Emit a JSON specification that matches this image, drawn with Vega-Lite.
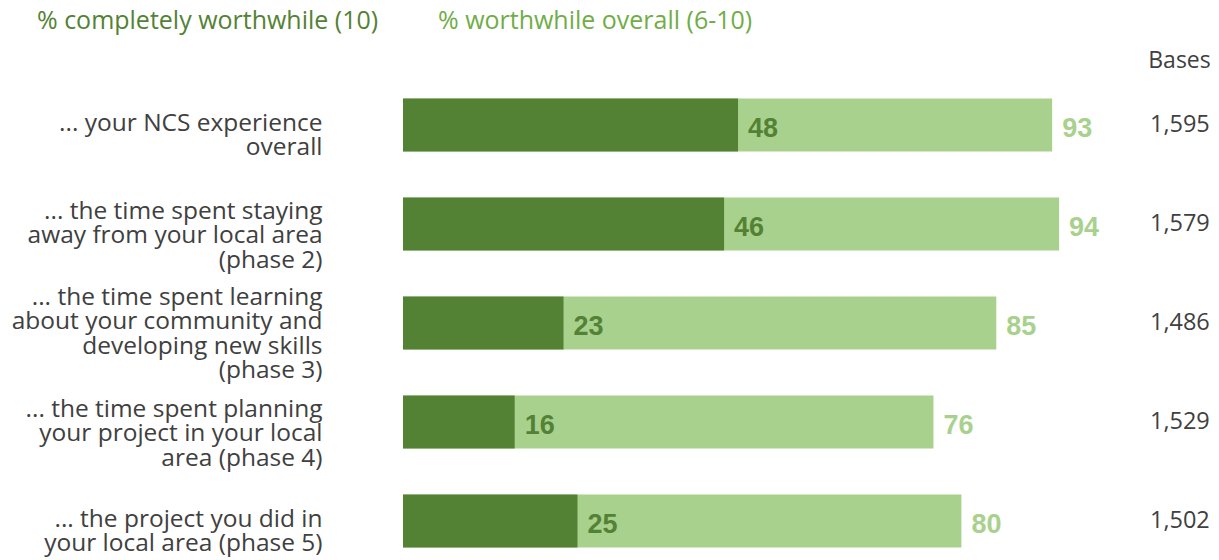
{
  "$schema": "https://vega.github.io/schema/vega-lite/v6.json",
  "autosize": "none",
  "width": 698,
  "height": 468.8,
  "padding": {"left": 403, "top": 88.6, "right": 118, "bottom": 0},
  "background": "white",
  "data": {"values": [
    {"item": "... your NCS experience|overall", "complete": 48, "overall": 93, "base": "1,595"},
    {"item": "... the time spent staying|away from your local area|(phase 2)", "complete": 46, "overall": 94, "base": "1,579"},
    {"item": "... the time spent learning|about your community and|developing new skills|(phase 3)", "complete": 23, "overall": 85, "base": "1,486"},
    {"item": "... the time spent planning|your project in your local|area (phase 4)", "complete": 16, "overall": 76, "base": "1,529"},
    {"item": "... the project you did in|your local area (phase 5)", "complete": 25, "overall": 80, "base": "1,502"}
  ]},
  "encoding": {
    "y": {"field": "item", "type": "nominal", "sort": null,
      "scale": {"paddingInner": 0.4646, "paddingOuter": 0.1},
      "axis": {"title": null, "domain": false, "ticks": false, "labelPadding": 81,
        "labelOffset": {"condition": [
          {"test": "length(split(datum.value, '|')) == 4", "value": -25},
          {"test": "length(split(datum.value, '|')) == 3", "value": -12}], "value": -1},
        "labelExpr": "split(datum.label, '|')", "labelFont": "Open Sans", "labelFontSize": 24.5,
        "labelColor": "#404040", "labelLimit": 400, "labelLineHeight": 24.5, "labelAlign": "right"}}
  },
  "layer": [
    {"mark": {"type": "bar"},
     "encoding": {
       "x": {"field": "overall", "type": "quantitative", "scale": {"domain": [0, 100]},
         "axis": {"orient": "top", "domain": false, "ticks": false, "labels": false, "grid": false,
           "title": "Bases", "titleX": 776, "titleY": -21, "titleAlign": "center", "titleBaseline": "alphabetic",
           "titleFont": "Open Sans", "titleFontSize": 23, "titleFontWeight": "normal", "titleColor": "#404040"}},
       "color": {"datum": "% worthwhile overall (6-10)", "type": "nominal",
         "scale": {"domain": ["% completely worthwhile (10)", "% worthwhile overall (6-10)"], "range": ["#548235", "#A9D18E"]},
         "legend": {"title": null, "orient": "none", "legendX": -391, "legendY": -80, "direction": "horizontal", "padding": 0,
           "symbolSize": 0, "symbolOpacity": 0, "symbolStrokeWidth": 0, "labelOffset": 0, "columnPadding": 34,
           "labelFont": "Open Sans", "labelFontSize": 25, "labelLimit": 500,
           "labelColor": {"expr": "datum.index == 0 ? '#548235' : '#70AD47'"}}}
     }},
    {"mark": {"type": "bar"},
     "encoding": {
       "x": {"field": "complete", "type": "quantitative"},
       "color": {"datum": "% completely worthwhile (10)", "type": "nominal"}
     }},
    {"mark": {"type": "text", "align": "left", "baseline": "middle", "dx": 10, "dy": 4, "font": "Liberation Sans", "fontWeight": "bold", "fontSize": 27, "color": "#548235"},
     "encoding": {"x": {"field": "complete", "type": "quantitative"}, "text": {"field": "complete"}}},
    {"mark": {"type": "text", "align": "left", "baseline": "middle", "dx": 10, "dy": 4, "font": "Liberation Sans", "fontWeight": "bold", "fontSize": 27, "color": "#A9D18E"},
     "encoding": {"x": {"field": "overall", "type": "quantitative"}, "text": {"field": "overall"}}},
    {"mark": {"type": "text", "align": "center", "baseline": "middle", "font": "Open Sans", "fontSize": 23.5, "color": "#404040"},
     "encoding": {"x": {"datum": 111.3}, "text": {"field": "base"}}}
  ],
  "config": {"view": {"stroke": null}}
}
